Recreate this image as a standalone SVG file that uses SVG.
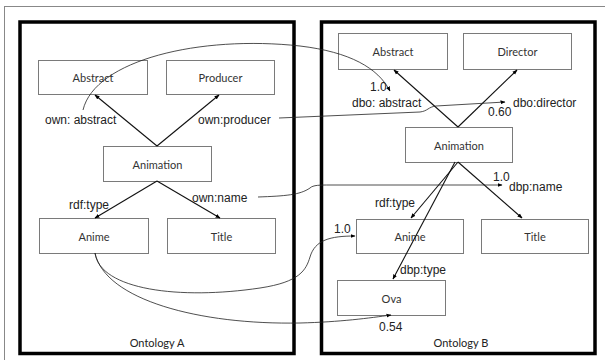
<svg xmlns="http://www.w3.org/2000/svg" width="605" height="360" viewBox="0 0 605 360">
<style>
.node rect{fill:#fff;stroke:#7a7a7a;stroke-width:1}
.node text{font-family:Lato,"Open Sans",sans-serif;font-size:11px;fill:#333;text-anchor:middle;dominant-baseline:central}
.lbl{font-family:"Liberation Sans",Arial,sans-serif;font-size:12px;fill:#222}
.cap{font-family:Lato,"Open Sans",sans-serif;font-size:11px;fill:#222;text-anchor:middle}
.edge{fill:none;stroke:#111;stroke-width:1.1;marker-end:url(#ah)}
.map{fill:none;stroke:#222;stroke-width:0.8;marker-end:url(#ah)}
.ont{fill:none;stroke:#000;stroke-width:3.5}
</style>
<defs>
<marker id="ah" viewBox="0 0 10 10" refX="9" refY="5" markerWidth="5" markerHeight="5" orient="auto" markerUnits="userSpaceOnUse"><path d="M0,1 L10,5 L0,9 z" fill="#000"/></marker>
</defs>
<rect width="605" height="360" fill="#fff"/>
<rect x="4.5" y="6.5" width="700" height="400" fill="none" stroke="#888" stroke-width="1"/>
<g id="ontologyA">
<rect class="ont" x="20" y="22" width="274" height="331.5"/>
<text class="cap" x="157" y="347">Ontology A</text>
</g>
<g id="ontologyB">
<rect class="ont" x="321.5" y="22" width="273.5" height="331.5"/>
<text class="cap" x="461" y="347">Ontology B</text>
</g>
<g id="A_Abstract" class="node"><rect x="38.5" y="60.5" width="109" height="34"/><text x="93" y="77.5">Abstract</text></g>
<g id="A_Producer" class="node"><rect x="166.5" y="60.5" width="108" height="34"/><text x="220.5" y="77.5">Producer</text></g>
<g id="A_Animation" class="node"><rect x="103.5" y="146.5" width="108" height="35"/><text x="157.5" y="164">Animation</text></g>
<g id="A_Anime" class="node"><rect x="39.5" y="218.5" width="109" height="35"/><text x="94" y="236">Anime</text></g>
<g id="A_Title" class="node"><rect x="167.5" y="218.5" width="108" height="35"/><text x="221.5" y="236">Title</text></g>
<g id="B_Abstract" class="node"><rect x="338.5" y="33.5" width="109" height="36"/><text x="393" y="51.5">Abstract</text></g>
<g id="B_Director" class="node"><rect x="463.5" y="33.5" width="108" height="36"/><text x="517.5" y="51.5">Director</text></g>
<g id="B_Animation" class="node"><rect x="405.5" y="127.5" width="107" height="35"/><text x="459" y="145">Animation</text></g>
<g id="B_Anime" class="node"><rect x="356.5" y="219.5" width="107" height="34"/><text x="410" y="236.5">Anime</text></g>
<g id="B_Title" class="node"><rect x="481.5" y="219.5" width="107" height="34"/><text x="535" y="236.5">Title</text></g>
<g id="B_Ova" class="node"><rect x="337.5" y="280.5" width="108" height="35"/><text x="391.5" y="298">Ova</text></g>
<g id="connectors">
<path class="edge" d="M157,146 L95,95"/>
<path class="edge" d="M157,146 L219,95"/>
<path class="edge" d="M157,181 L95,218"/>
<path class="edge" d="M157,181 L220,218"/>
<path class="edge" d="M458,127 L394,70"/>
<path class="edge" d="M458,127 L517,70"/>
<path class="edge" d="M458,162 L411,218"/>
<path class="edge" d="M458,162 L522,218"/>
<path class="edge" d="M455,162 L393,279"/>
<path class="map" d="M83,110 C95,60 200,35 300,46 C350,52 378,68 390,91"/>
<path class="map" d="M279,118 L420,112 C428,111 428,107 436,106 L505,102"/>
<path class="map" d="M258,197 C285,196 300,195 310,188 C313,185 320,185 330,185 L502,185"/>
<path class="map" d="M95,253 C100,290 180,300 260,288 C300,282 306,270 310,257 C315,240 330,236 355,236"/>
<path class="map" d="M95,253 C105,300 200,325 300,323 C340,322 370,318 391,315"/>
<text class="lbl" x="45" y="124">own: abstract</text>
<text class="lbl" x="198" y="124">own:producer</text>
<text class="lbl" x="69" y="209">rdf:type</text>
<text class="lbl" x="192" y="202">own:name</text>
<text class="lbl" x="370" y="91">1.0</text>
<text class="lbl" x="352" y="107">dbo: abstract</text>
<text class="lbl" x="513" y="107">dbo:director</text>
<text class="lbl" x="488" y="116">0.60</text>
<text class="lbl" x="493" y="181">1.0</text>
<text class="lbl" x="509" y="191">dbp:name</text>
<text class="lbl" x="375" y="207">rdf:type</text>
<text class="lbl" x="334" y="233">1.0</text>
<text class="lbl" x="400" y="274">dbp:type</text>
<text class="lbl" x="379" y="331">0.54</text>
</g>
</svg>
